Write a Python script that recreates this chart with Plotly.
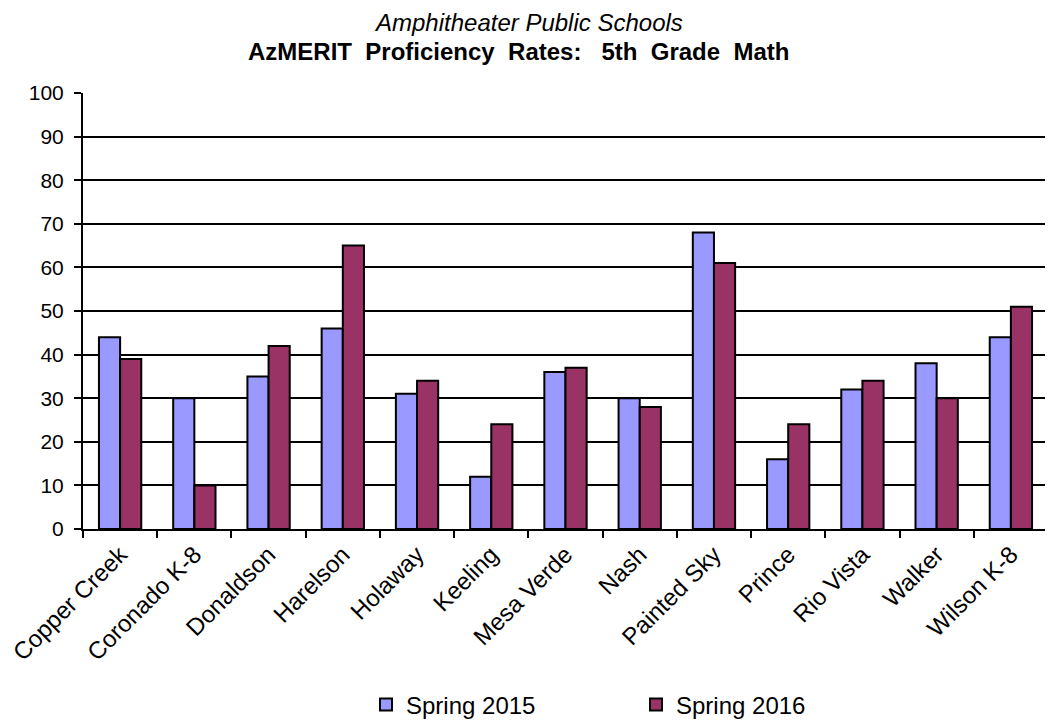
import plotly.graph_objects as go

schools = ["Copper Creek", "Coronado K-8", "Donaldson", "Harelson", "Holaway", "Keeling",
           "Mesa Verde", "Nash", "Painted Sky", "Prince", "Rio Vista", "Walker", "Wilson K-8"]
spring_2015 = [44, 30, 35, 46, 31, 12, 36, 30, 68, 16, 32, 38, 44]
spring_2016 = [39, 10, 42, 65, 34, 24, 37, 28, 61, 24, 34, 30, 51]
y_ticks = list(range(0, 101, 10))

font = "Liberation Sans, Arial, sans-serif"

W, H = 1045, 713
L, R, T, B = 75, 5, 85, 192
ph = H - T - B
pw = W - L - R

def py(pix_from_top):
    return 1 + (T - pix_from_top) / ph

def px(pix_from_left):
    return (pix_from_left - L) / pw

fig = go.Figure()
fig.add_trace(go.Bar(x=schools, y=spring_2015, name="Spring 2015",
                     marker=dict(color="#9999FF", line=dict(color="black", width=2))))
fig.add_trace(go.Bar(x=schools, y=spring_2016, name="Spring 2016",
                     marker=dict(color="#993366", line=dict(color="black", width=2))))

fig.add_annotation(text="<i>Amphitheater Public Schools</i>", xref="paper", yref="paper",
                   x=px(528 - 8), y=py(14),
                   xanchor="center", yanchor="middle", showarrow=False,
                   font=dict(family=font, size=24, color="black"))
fig.add_annotation(text="<b>AzMERIT&nbsp; Proficiency&nbsp; Rates:&nbsp;&nbsp; 5th&nbsp; Grade&nbsp; Math</b>",
                   xref="paper", yref="paper",
                   x=px(518 - 8), y=py(44),
                   xanchor="center", yanchor="middle", showarrow=False,
                   font=dict(family=font, size=24, color="black"))

fig.update_layout(
    width=W, height=H,
    paper_bgcolor="white", plot_bgcolor="white",
    font=dict(family=font, color="black", size=20),
    margin=dict(l=L, r=R, t=T, b=B, autoexpand=False),
    barmode="group", bargap=0.43, bargroupgap=0,
    legend=dict(orientation="h", x=px(358), xanchor="left", y=py(697), yanchor="middle",
                font=dict(size=24), entrywidth=225, traceorder="normal", itemwidth=30),
    showlegend=True,
)
fig.update_xaxes(showline=True, linecolor="black", linewidth=2, ticks="outside",
                 tickson="boundaries", ticklen=7, tickwidth=2, tickcolor="black",
                 tickangle=-45, tickfont=dict(size=24), showgrid=False, automargin=False)
fig.update_yaxes(range=[0, 100], tickvals=y_ticks, showline=True, linecolor="black", linewidth=2,
                 ticks="outside", ticklen=7, tickwidth=2, tickcolor="black",
                 showgrid=True, gridcolor="black", gridwidth=1.5, zeroline=False,
                 tickfont=dict(size=21), ticklabelstandoff=6, automargin=False)

fig.write_html("out.html")
